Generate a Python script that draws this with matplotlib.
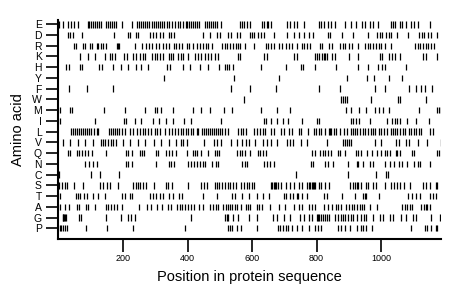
import matplotlib
matplotlib.use("Agg")
import matplotlib.pyplot as plt

amino_acids = ["E", "D", "R", "K", "H", "Y", "F", "W", "M", "I",
               "L", "V", "Q", "N", "C", "S", "T", "A", "G", "P"]

pos_E = [2, 13, 31, 39, 48, 62, 90, 95, 101, 108, 114, 120, 126, 132, 147, 153, 159, 165, 171, 178, 196,
         227, 242, 250, 256, 262, 268, 274, 281, 289, 295, 301, 307, 314, 320, 328, 336, 344, 353, 361, 369, 377, 386,
         394, 399, 406, 412, 418, 424, 430, 436, 455, 461, 467, 473, 480, 486, 492, 504, 562, 568, 574, 585, 593,
         632, 638, 645, 651, 659, 708, 717, 731, 739, 760,
         809, 815, 823, 835, 844, 858, 889, 908, 922, 941, 951, 967, 976, 992, 1031, 1037, 1044, 1058, 1066, 1076,
         1093, 1103, 1114, 1153]
pos_D = [31, 37, 46, 74, 173, 217, 223, 239, 245, 285, 293, 301, 316, 324, 342, 348, 357,
         449, 471, 492, 502, 527, 535, 554, 562, 595, 600, 606, 618, 628, 636, 667, 710, 729, 747, 760, 778,
         788, 835, 842, 879, 912, 959, 988, 996, 1004, 1015, 1025, 1031, 1050, 1085, 1118, 1126, 1132, 1147, 1155, 1175]
pos_R = [48, 54, 75, 81, 99, 105, 118, 124, 132, 139, 147, 180, 184, 187, 237, 260, 272, 280, 291, 301, 311, 324,
         332, 342, 357, 365, 373, 384,
         397, 405, 416, 430, 438, 447, 457, 465, 476, 507, 515, 523, 531, 542, 550, 556, 564, 579, 606, 643, 651,
         659, 669, 684, 694, 704, 715, 725, 739, 754, 760, 770, 781,
         811, 817, 840, 848, 873, 883, 889, 901, 910, 930, 949, 959, 967, 976, 986, 994, 1000, 1013, 1031, 1105,
         1114, 1122, 1130, 1138, 1147, 1155, 1165]
pos_K = [68, 91, 114, 145, 159, 166, 174, 203, 211, 232, 240, 252, 261, 269, 290, 298, 306, 314, 323, 343, 350,
         356, 370, 379, 387,
         401, 424, 432, 443, 453, 463, 474, 486, 494, 556, 564, 636, 645, 729, 739,
         794, 800, 807, 817, 823, 827, 833, 848, 856, 901, 928, 996, 1004, 1025, 1033, 1044, 1058, 1130, 1140, 1175]
pos_H = [23, 33, 66, 73, 126, 134, 168, 194, 217, 240, 256, 279, 337, 347, 385,
         408, 439, 465, 497, 515, 521, 530, 542, 627, 705, 753, 759,
         794, 860, 928, 961, 992, 1004, 1011, 1077]
pos_Y = [328, 544, 684, 895, 957, 978, 1025, 1066]
pos_F = [33, 87, 170, 534, 594, 674, 809, 873, 980, 1011, 1086, 1108, 1123, 1137, 1158]
pos_W = [575, 877, 883, 889, 896, 968, 1053, 1059, 1139]
pos_M = [4, 37, 42, 141, 205, 269, 298, 304, 319, 356,
         416, 441, 470, 513, 538, 629, 676, 718,
         891, 908, 931, 953, 982, 993, 1007, 1024, 1117, 1173, 1179, 1185]
pos_I = [6, 112, 203, 209, 236, 255, 292, 312, 333, 354, 389,
         410, 503, 637, 643, 660, 678, 695, 711, 755,
         800, 807, 908, 914, 922, 933, 966, 1020, 1034, 1042, 1051, 1059, 1080, 1108, 1148]
pos_L = [40, 46, 52, 58, 64, 71, 77, 83, 89, 96, 102, 110, 118, 124, 158, 164, 170, 176, 182, 189, 197, 205,
         222, 230, 244, 253, 261, 269, 277, 286, 298, 306, 315, 331, 342, 352, 360, 371, 379, 387,
         395, 403, 410, 416, 428, 434, 445, 451, 457, 463, 470, 476, 482, 488, 494, 501, 507, 515, 525, 556, 565,
         573, 581, 606, 616, 625, 633, 641, 660, 668, 689, 699, 716, 724, 745, 753, 774,
         792, 798, 807, 815, 827, 838, 842, 846, 854, 860, 873, 885, 896, 908, 912, 918, 925, 935, 943, 951, 960,
         968, 976, 982, 993, 1001, 1009, 1020, 1030, 1038, 1044, 1051, 1059, 1067, 1075, 1086, 1094, 1102, 1108,
         1117, 1125, 1152, 1160]
pos_V = [13, 37, 60, 83, 108, 133, 139, 145, 153, 162, 170, 178, 199, 222, 248, 269, 296, 319, 342, 364, 379, 385,
         399, 451, 482, 492, 503, 534, 554, 569, 581, 592, 610, 635, 647, 660, 676, 709, 718, 726, 751, 771,
         831, 881, 887, 893, 900, 906, 982, 1001, 1046, 1055, 1077, 1088, 1115, 1144, 1185]
pos_Q = [29, 37, 56, 64, 72, 83, 93, 103, 147, 210, 216, 227, 254, 260, 266, 301, 309, 332, 342, 352, 363,
         397, 418, 424, 430, 443, 463, 486, 492, 498, 554, 564, 570, 579, 595, 618, 626, 634, 644, 787,
         794, 811, 819, 827, 835, 844, 868, 873, 889, 922, 930, 938, 957, 971, 988, 1000, 1011, 1019, 1027, 1046,
         1050, 1058, 1097, 1101, 1173, 1179]
pos_N = [83, 95, 107, 118, 210, 217, 229, 301, 342, 348, 359,
         403, 410, 420, 430, 439, 449, 455, 476, 488, 494, 570, 579, 585, 636, 645, 657, 667, 783,
         790, 827, 835, 850, 899, 924, 930, 943, 965, 976, 1013, 1029, 1041, 1056, 1066, 1081, 1103, 1114, 1120, 1151]
pos_C = [2, 101, 130, 188, 736, 899, 984, 1015, 1023]
pos_S = [1, 11, 19, 27, 48, 75, 130, 138, 149, 161, 184, 231, 239, 246, 252, 262, 272, 295, 332, 338, 353,
         401, 443, 451, 459, 484, 490, 498, 508, 517, 527, 533, 541, 550, 566, 574, 583, 591, 599, 607, 659, 663,
         667, 671, 675, 682, 690, 704, 717, 729, 745, 754, 772, 776, 780, 787,
         788, 792, 796, 809, 815, 827, 840, 905, 912, 918, 926, 930, 938, 955, 961, 976, 986, 1011, 1031, 1039,
         1050, 1060, 1072, 1091, 1130, 1140, 1153, 1169, 1173]
pos_T = [6, 54, 60, 66, 79, 87, 108, 124, 145, 198, 206, 221, 229, 285, 293, 301, 314, 324, 343, 355, 373, 384,
         447, 492, 539, 546, 570, 591, 616, 634, 653, 698, 704, 717, 727, 739, 743, 756, 772,
         823, 831, 879, 920, 943, 949, 953, 994, 1083, 1095, 1109, 1122, 1151, 1161, 1171]
pos_A = [4, 19, 33, 56, 64, 85, 93, 112, 147, 155, 163, 172, 180, 196, 250, 273, 287, 306, 322, 339, 349, 368,
         376, 384,
         393, 401, 412, 420, 436, 447, 469, 478, 488, 496, 511, 519, 527, 533, 539, 546, 554, 566, 581, 587, 595,
         614, 622, 632, 655, 684, 702, 729, 745, 754, 776, 785,
         796, 823, 835, 848, 860, 868, 875, 891, 901, 910, 916, 924, 934, 941, 947, 967, 988, 1064, 1074, 1081,
         1091, 1097, 1124, 1132, 1138, 1144, 1153]
pos_G = [13, 15, 18, 21, 23, 64, 70, 147, 194, 217, 225, 237,
         410, 515, 521, 527, 540, 558, 591, 616, 665, 678, 698, 717, 750, 760, 776, 785,
         800, 805, 809, 813, 819, 825, 833, 840, 858, 868, 875, 881, 889, 897, 906, 914, 924, 939, 947, 953, 974,
         996, 1005, 1029, 1037, 1062, 1077, 1099, 1108, 1155, 1182]
pos_P = [5, 9, 15, 21, 27, 85, 151, 230,
         393, 527, 533, 539, 554, 566, 616, 680, 688, 696, 704, 712, 725, 739, 756, 776,
         794, 805, 815, 868, 875, 887, 903, 924, 938, 945, 955, 973, 1093, 1136, 1142, 1155, 1169, 1175]

positions = [pos_E, pos_D, pos_R, pos_K, pos_H, pos_Y, pos_F, pos_W, pos_M, pos_I,
             pos_L, pos_V, pos_Q, pos_N, pos_C, pos_S, pos_T, pos_A, pos_G, pos_P]

x_ticks = [200, 400, 600, 800, 1000]
seq_len = 1186

plt.rcParams['font.family'] = ['Liberation Sans', 'DejaVu Sans']

fig = plt.figure(figsize=(4.6, 2.99), dpi=100)
ax = fig.add_axes([58.5 / 460, 1 - 239 / 299, (441 - 58.5) / 460, (239 - 20) / 299])

n = len(amino_acids)
for i, (aa, pos) in enumerate(zip(amino_acids, positions)):
    y = n - 1 - i
    ax.vlines(pos, y - 0.3, y + 0.3, color="black", linewidth=0.9)

ax.set_xlim(0, seq_len)
ax.set_ylim(-1.0, n - 1 + 0.4)
ax.set_yticks(range(n))
ax.set_yticklabels(amino_acids[::-1], fontsize=7.5)
ax.set_xticks(x_ticks)
ax.set_xticklabels([str(t) for t in x_ticks], fontsize=6.5)
ax.tick_params(axis="y", length=9, width=1.2, pad=3)
ax.tick_params(axis="x", length=9, width=1.2, pad=2)
for s in ["top", "right"]:
    ax.spines[s].set_visible(False)
for s in ["left", "bottom"]:
    ax.spines[s].set_linewidth(1.5)

ax.set_xlabel("Position in protein sequence", fontsize=10.5, labelpad=5)
ax.set_ylabel("Amino acid", fontsize=10.5, labelpad=5)

fig.savefig("out.png", dpi=100)
